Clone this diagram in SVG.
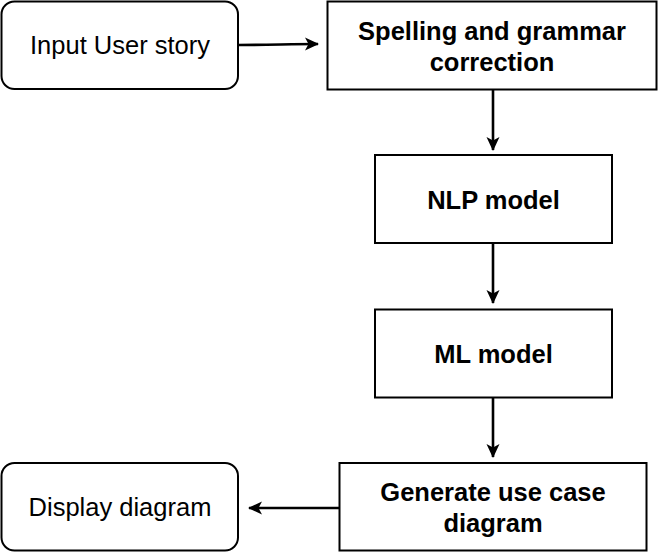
<svg xmlns="http://www.w3.org/2000/svg" width="660" height="552" viewBox="0 0 660 552">
<defs>
<style>
.box{fill:#fff;stroke:#000;stroke-width:2}
.t{font-family:"Liberation Sans",Arial,sans-serif;font-size:25.5px;fill:#000;text-anchor:middle}
.b{font-weight:bold}
.edge{fill:none;stroke:#000;stroke-width:2.6}
</style>
<marker id="arr" markerWidth="16" markerHeight="16" refX="13" refY="7" orient="auto" markerUnits="userSpaceOnUse">
<path d="M0,0.5 L14,7 L0,13.5 L3.5,7 Z" fill="#000"/>
</marker>
</defs>
<rect width="660" height="552" fill="#fff"/>
<g id="connectors">
<path class="edge" d="M238,45 C270,45 290,44 318,44" marker-end="url(#arr)"/>
<path class="edge" d="M493,90 L493,150" marker-end="url(#arr)"/>
<path class="edge" d="M493,243 L493,303" marker-end="url(#arr)"/>
<path class="edge" d="M493,398 L493,457" marker-end="url(#arr)"/>
<path class="edge" d="M339,508 L249,508" marker-end="url(#arr)"/>
</g>
<g id="input">
<rect class="box" x="1.5" y="1.5" width="236.5" height="87.5" rx="13"/>
<text class="t" x="120" y="54">Input User story</text>
</g>
<g id="spelling">
<rect class="box" x="327.5" y="1.5" width="329" height="88"/>
<text class="t b" x="492" y="40">Spelling and grammar</text>
<text class="t b" x="492" y="71">correction</text>
</g>
<g id="nlp">
<rect class="box" x="375" y="155" width="237" height="88"/>
<text class="t b" x="493.5" y="209">NLP model</text>
</g>
<g id="ml">
<rect class="box" x="375" y="309.5" width="237" height="88"/>
<text class="t b" x="493.5" y="363">ML model</text>
</g>
<g id="generate">
<rect class="box" x="339.5" y="463" width="307" height="87.5"/>
<text class="t b" x="493" y="501">Generate use case</text>
<text class="t b" x="493" y="532">diagram</text>
</g>
<g id="display">
<rect class="box" x="1.5" y="463" width="236.5" height="87.5" rx="13"/>
<text class="t" x="120" y="516">Display diagram</text>
</g>
</svg>
